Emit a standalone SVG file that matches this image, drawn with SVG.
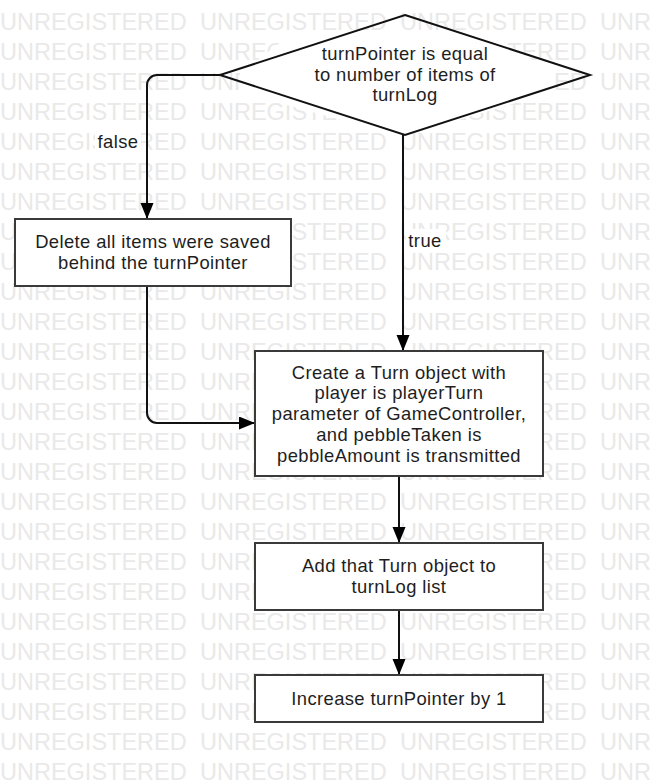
<svg xmlns="http://www.w3.org/2000/svg" xmlns:xlink="http://www.w3.org/1999/xlink" width="651" height="783" viewBox="0 0 651 783">
<style>
.wm{font-family:"Liberation Sans",Arial,sans-serif;font-size:23.5px;fill:#e9e9e9}
.box{fill:#ffffff;stroke:#3a3a3a;stroke-width:2}
.dia{fill:none;stroke:#111111;stroke-width:2}
.lbl{font-family:"Liberation Sans",Arial,sans-serif;font-size:18.4px;letter-spacing:0.4px;fill:#1e1e1e;text-anchor:middle}
.edge{fill:none;stroke:#111111;stroke-width:2}
.bg{fill:#ffffff}
</style>
<defs>
<marker id="arr" markerUnits="userSpaceOnUse" markerWidth="18" markerHeight="14" refX="16" refY="6.5" orient="auto">
<path d="M0,0 L16,6.5 L0,13 z" fill="#000000"/>
</marker>
<text id="wmrow" class="wm"><tspan x="0">UNREGISTERED</tspan><tspan x="200">UNREGISTERED</tspan><tspan x="400">UNREGISTERED</tspan><tspan x="600">UNREGISTERED</tspan></text>
</defs>
<rect width="651" height="783" fill="#ffffff"/>
<g id="watermark">
<use xlink:href="#wmrow" y="30"/><use xlink:href="#wmrow" y="60"/><use xlink:href="#wmrow" y="90"/><use xlink:href="#wmrow" y="120"/><use xlink:href="#wmrow" y="150"/><use xlink:href="#wmrow" y="180"/><use xlink:href="#wmrow" y="210"/><use xlink:href="#wmrow" y="240"/><use xlink:href="#wmrow" y="270"/><use xlink:href="#wmrow" y="300"/><use xlink:href="#wmrow" y="330"/><use xlink:href="#wmrow" y="360"/><use xlink:href="#wmrow" y="390"/><use xlink:href="#wmrow" y="420"/><use xlink:href="#wmrow" y="450"/><use xlink:href="#wmrow" y="480"/><use xlink:href="#wmrow" y="510"/><use xlink:href="#wmrow" y="540"/><use xlink:href="#wmrow" y="570"/><use xlink:href="#wmrow" y="600"/><use xlink:href="#wmrow" y="630"/><use xlink:href="#wmrow" y="660"/><use xlink:href="#wmrow" y="690"/><use xlink:href="#wmrow" y="720"/><use xlink:href="#wmrow" y="750"/><use xlink:href="#wmrow" y="780"/>
</g>
<g id="connectors">
<path class="edge" d="M220,75 H157 A10,10 0 0 0 147,85 V219" marker-end="url(#arr)"/>
<path class="edge" d="M403,135 V351" marker-end="url(#arr)"/>
<path class="edge" d="M147,286 V413 A10,10 0 0 0 157,423 H255" marker-end="url(#arr)"/>
<path class="edge" d="M399,476 V543" marker-end="url(#arr)"/>
<path class="edge" d="M399,610 V675" marker-end="url(#arr)"/>
<rect class="bg" x="95" y="131" width="46" height="22"/>
<text class="lbl" x="118" y="148">false</text>
<rect class="bg" x="406" y="229" width="40" height="24"/>
<text class="lbl" x="425" y="247">true</text>
</g>
<g id="decision">
<polygon class="bg" points="280,43 505,43 553,73 553,92 455,121 345,121 240,92 240,73"/>
<polygon class="dia" points="405,15 590,75 405,135 220,75"/>
<text class="lbl" x="405" y="59.8">turnPointer is equal<tspan x="405" dy="20.8">to number of items of</tspan><tspan x="405" dy="20.8">turnLog</tspan></text>
</g>
<g id="delete">
<rect class="box" x="15" y="219" width="276" height="67"/>
<text class="lbl" x="153" y="247.9">Delete all items were saved<tspan x="153" dy="20.8">behind the turnPointer</tspan></text>
</g>
<g id="create">
<rect class="box" x="255" y="351" width="288" height="125"/>
<text class="lbl" x="399" y="378.6">Create a Turn object with<tspan x="399" dy="20.8">player is playerTurn</tspan><tspan x="399" dy="20.8">parameter of GameController,</tspan><tspan x="399" dy="20.8">and pebbleTaken is</tspan><tspan x="399" dy="20.8">pebbleAmount is transmitted</tspan></text>
</g>
<g id="add">
<rect class="box" x="255" y="543" width="288" height="67"/>
<text class="lbl" x="399" y="571.9">Add that Turn object to<tspan x="399" dy="20.8">turnLog list</tspan></text>
</g>
<g id="increase">
<rect class="box" x="255" y="675" width="288" height="47"/>
<text class="lbl" x="399" y="704.6">Increase turnPointer by 1</text>
</g>
</svg>
